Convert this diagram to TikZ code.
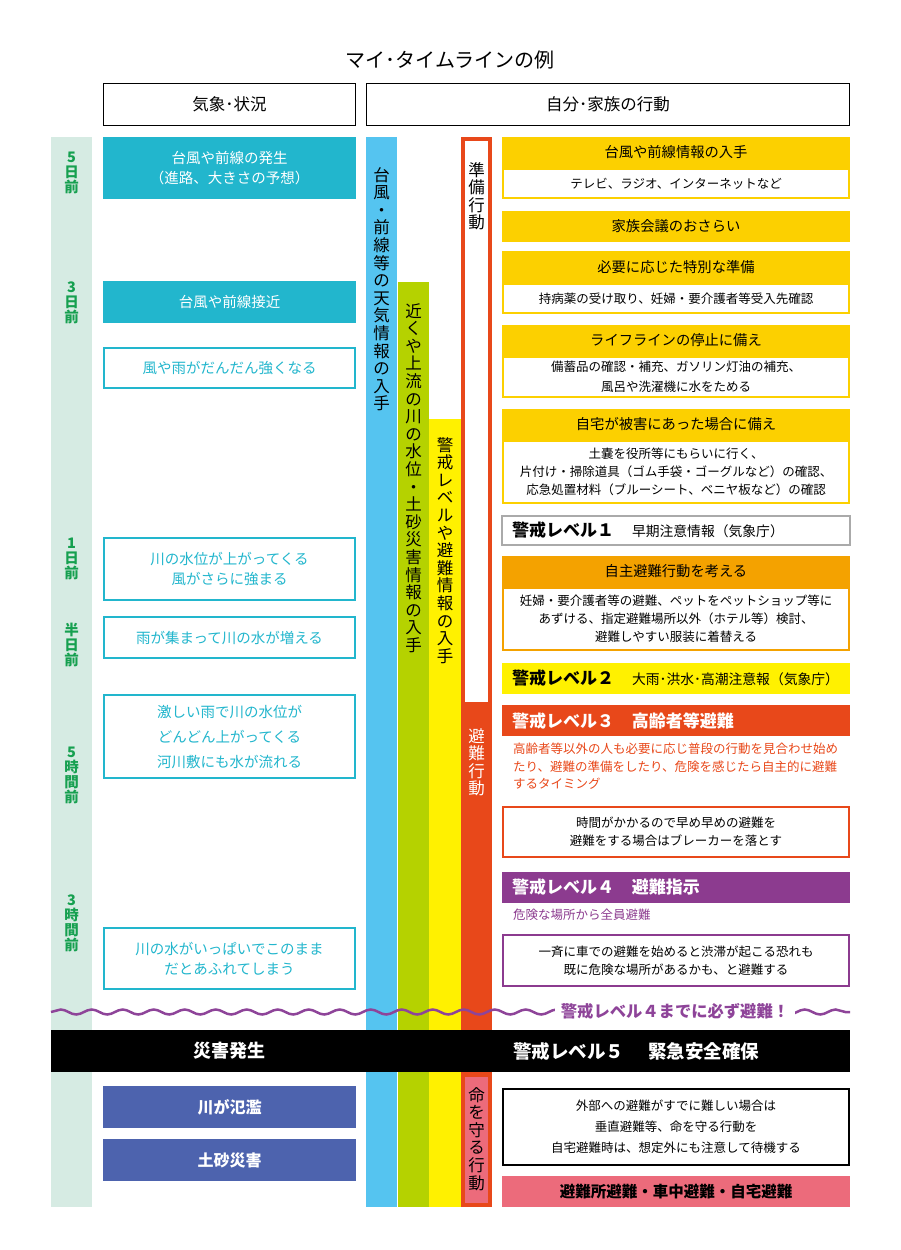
\documentclass[tikz,border=0pt]{standalone}
\usepackage{fontspec}
\setmainfont{Noto Sans CJK JP}
\usetikzlibrary{positioning,decorations.pathmorphing}
\definecolor{tlmint}{RGB}{214, 235, 227}
\definecolor{tlgreen}{RGB}{22, 160, 80}
\definecolor{wxteal}{RGB}{34, 182, 205}
\definecolor{colblue}{RGB}{85, 196, 240}
\definecolor{collime}{RGB}{181, 210, 0}
\definecolor{colyellow}{RGB}{255, 241, 0}
\definecolor{actred}{RGB}{232, 72, 26}
\definecolor{actgold}{RGB}{252, 208, 0}
\definecolor{actorange}{RGB}{244, 162, 0}
\definecolor{lvgray}{RGB}{170, 170, 170}
\definecolor{lvpurple}{RGB}{140, 59, 143}
\definecolor{wavepurple}{RGB}{142, 68, 153}
\definecolor{dsnavy}{RGB}{77, 99, 174}
\definecolor{dspink}{RGB}{236, 107, 123}
\newcommand{\lvtag}[1]{{\bfseries\fontsize{17}{17}\selectfont 警戒レベル#1}\hspace{18pt}}

\begin{document}
\begin{tikzpicture}[x=1pt, y=-1pt,
    hdr/.style={draw=black, line width=1.3pt, minimum height=42pt, inner sep=0pt, font=\fontsize{16.5}{18}\selectfont},
    tlabel/.style={anchor=north, inner sep=0pt, align=center, text=tlgreen, font=\bfseries\fontsize{14.5}{15}\selectfont},
    wxfill/.style={fill=wxteal, text=white, minimum width=253pt, inner sep=0pt, align=center, font=\fontsize{14.5}{20}\selectfont},
    wxline/.style={draw=wxteal, line width=2pt, fill=white, text=wxteal, minimum width=251pt, inner sep=0pt, align=center, font=\fontsize{14.5}{20}\selectfont},
    dsbox/.style={fill=dsnavy, text=white, minimum width=253pt, minimum height=42pt, inner sep=0pt, font=\bfseries\fontsize{16}{18}\selectfont},
    vtext/.style={anchor=north, inner sep=0pt, align=center, font=\fontsize{16.5}{17.6}\selectfont},
    actbar/.style={fill=#1, minimum width=348pt, minimum height=31pt, inner sep=0pt, font=\fontsize{14.3}{17}\selectfont},
    actsub/.style={draw=#1, line width=2pt, fill=white, minimum width=346pt, inner sep=0pt, align=center, font=\fontsize{12.5}{18}\selectfont},
    lvbar/.style={text width=328pt, inner xsep=10pt, inner ysep=0pt, minimum height=31pt, align=left, font=\fontsize{13.8}{17}\selectfont},
    lvnote/.style={anchor=north west, inner sep=0pt, align=left, font=\fontsize{12.5}{17.5}\selectfont}
  ]
  \useasboundingbox (0,0) rectangle (900,1250);

  % Heading
  \node[font=\fontsize{20}{22}\selectfont] (ttl) at (450,60) {マイ･タイムラインの例};
  \node[hdr, minimum width=252pt] (hdwx) at (229.5,104.5) {気象･状況};
  \node[hdr, minimum width=483pt] (hdact) at (608,104.5) {自分･家族の行動};

  % Timeline and columns
  \fill[tlmint] (51,137) rectangle (92,1207);
  \fill[colblue] (366,137) rectangle (397,1207);
  \fill[collime] (398,282) rectangle (429,1207);
  \fill[colyellow] (429,419) rectangle (461,1207);
  \fill[actred] (461,137) rectangle (492,1207);
  \fill[white] (465,141) rectangle (488,702);
  \fill[dspink] (465,1077) rectangle (488,1203);

  \node[tlabel] (tl5d) at (71.5,152) {5\\日\\前};
  \node[tlabel] (tl3d) at (71.5,282) {3\\日\\前};
  \node[tlabel] (tl1d) at (71.5,538) {1\\日\\前};
  \node[tlabel] (tlhalf) at (71.5,623) {半\\日\\前};
  \node[tlabel] (tl5h) at (71.5,747) {5\\時\\間\\前};
  \node[tlabel] (tl3h) at (71.5,895) {3\\時\\間\\前};

  \node[vtext] (vwx) at (381.5,167) {台\\風\\・\\前\\線\\等\\の\\天\\気\\情\\報\\の\\入\\手};
  \node[vtext] (vriv) at (413.5,303) {近\\く\\や\\上\\流\\の\\川\\の\\水\\位\\・\\土\\砂\\災\\害\\情\\報\\の\\入\\手};
  \node[vtext] (valert) at (445,437) {警\\戒\\レ\\ベ\\ル\\や\\避\\難\\情\\報\\の\\入\\手};
  \node[vtext] (vprep) at (476.5,162) {準\\備\\行\\動};
  \node[vtext, text=white] (vevac) at (476.5,728) {避\\難\\行\\動};
  \node[vtext] (vlife) at (476.5,1087) {命\\を\\守\\る\\行\\動};

  % Weather
  \node[wxfill, minimum height=62pt] (wx1) at (229.5,168) {台風や前線の発生\\（進路、大きさの予想）};
  \node[wxfill, minimum height=42pt] (wx2) at (229.5,302) {台風や前線接近};
  \node[wxline, minimum height=40pt] (wx3) at (229.5,368) {風や雨がだんだん強くなる};
  \node[wxline, minimum height=62pt] (wx4) at (229.5,569) {川の水位が上がってくる\\風がさらに強まる};
  \node[wxline, minimum height=41pt] (wx5) at (229.5,637.5) {雨が集まって川の水が増える};
  \node[wxline, minimum height=83pt, font=\fontsize{14.5}{25}\selectfont] (wx6) at (229.5,736.5) {激しい雨で川の水位が\\どんどん上がってくる\\河川敷にも水が流れる};
  \node[wxline, minimum height=61pt] (wx7) at (229.5,958.5) {川の水がいっぱいでこのまま\\だとあふれてしまう};
  \node[dsbox] (flood) at (229.5,1107) {川が氾濫};
  \node[dsbox] (slide) at (229.5,1160) {土砂災害};

  % Actions
  \node[actbar=actgold] (a1) at (676,152.5) {台風や前線情報の入手};
  \node[actsub=actgold, minimum height=29pt] (a1s) at (676,183.5) {テレビ、ラジオ、インターネットなど};
  \node[actbar=actgold] (a2) at (676,226.5) {家族会議のおさらい};
  \node[actbar=actgold, minimum height=32pt] (a3) at (676,267) {必要に応じた特別な準備};
  \node[actsub=actgold, minimum height=29pt] (a3s) at (676,298.5) {持病薬の受け取り、妊婦・要介護者等受入先確認};
  \node[actbar=actgold] (a4) at (676,340.5) {ライフラインの停止に備え};
  \node[actsub=actgold, minimum height=40pt, font=\fontsize{12.5}{20}\selectfont] (a4s) at (676,377) {備蓄品の確認・補充、ガソリン灯油の補充、\\風呂や洗濯機に水をためる};
  \node[actbar=actgold] (a5) at (676,424.5) {自宅が被害にあった場合に備え};
  \node[actsub=actgold, minimum height=62pt] (a5s) at (676,472) {土嚢を役所等にもらいに行く、\\片付け・掃除道具（ゴム手袋・ゴーグルなど）の確認、\\応急処置材料（ブルーシート、ベニヤ板など）の確認};
  \node[lvbar, draw=lvgray, line width=2pt, fill=white, minimum height=29pt] (lv1) at (676,530.5) {\lvtag{１}早期注意情報（気象庁）};
  \node[actbar=actorange] (a6) at (676,571.5) {自主避難行動を考える};
  \node[actsub=actorange, minimum height=62pt] (a6s) at (676,619) {妊婦・要介護者等の避難、ペットをペットショップ等に\\あずける、指定避難場所以外（ホテル等）検討、\\避難しやすい服装に着替える};
  \node[lvbar, fill=colyellow] (lv2) at (676,678.5) {\lvtag{２}大雨･洪水･高潮注意報（気象庁）};
  \node[lvbar, fill=actred, text=white] (lv3) at (676,720.5) {\lvtag{３}{\bfseries\fontsize{17}{17}\selectfont 高齢者等避難}};
  \node[lvnote, text=actred] (lv3n) at (513,743) {高齢者等以外の人も必要に応じ普段の行動を見合わせ始め\\たり、避難の準備をしたり、危険を感じたら自主的に避難\\するタイミング};
  \node[actsub=actred, minimum height=50pt] (lv3s) at (676,832) {時間がかかるので早め早めの避難を\\避難をする場合はブレーカーを落とす};
  \node[lvbar, fill=lvpurple, text=white] (lv4) at (676,887.5) {\lvtag{４}{\bfseries\fontsize{17}{17}\selectfont 避難指示}};
  \node[lvnote, text=lvpurple] (lv4n) at (513,909) {危険な場所から全員避難};
  \node[actsub=lvpurple, minimum height=51pt] (lv4s) at (676,960.5) {一斉に車での避難を始めると渋滞が起こる恐れも\\既に危険な場所があるかも、と避難する};

  % Deadline wave
  \coordinate (wavel) at (51,1012);
  \coordinate (waver) at (850,1012);
  \draw[wavepurple, line width=2.5pt, decorate, decoration={snake, amplitude=2.5pt, segment length=31pt}] (wavel) -- (waver);
  \node[fill=white, inner xsep=6pt, inner ysep=1pt, text=wavepurple, font=\bfseries\fontsize{16.3}{18}\selectfont] (must) at (675,1011) {警戒レベル４までに必ず避難！};

  % Disaster
  \node[fill=black, minimum width=799pt, minimum height=42pt, inner sep=0pt] (band) at (450.5,1051) {};
  \node[text=white, font=\bfseries\fontsize{18}{18}\selectfont] (occur) at (229.5,1051) {災害発生};
  \node[anchor=west, inner sep=0pt, text=white, font=\bfseries\fontsize{18.5}{18}\selectfont] (lv5) at (513,1051) {警戒レベル５\hspace{24pt}緊急安全確保};
  \node[actsub=black, minimum height=76pt, font=\fontsize{12.5}{21}\selectfont] (lv5s) at (676,1127) {外部への避難がすでに難しい場合は\\垂直避難等、命を守る行動を\\自宅避難時は、想定外にも注意して待機する};
  \node[actbar=dspink, font=\bfseries\fontsize{15.5}{17}\selectfont] (lv5n) at (676,1191.5) {避難所避難・車中避難・自宅避難};
\end{tikzpicture}
\end{document}
